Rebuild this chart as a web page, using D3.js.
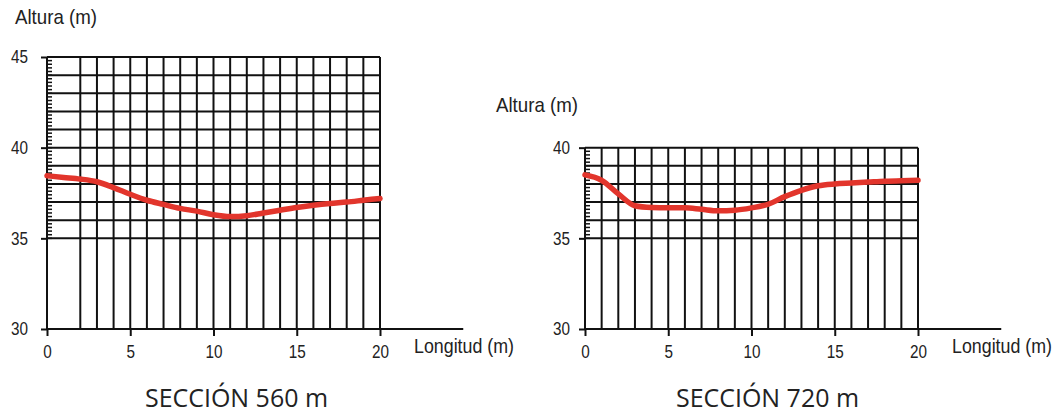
<!DOCTYPE html>
<html>
<head>
<meta charset="utf-8">
<script src="https://cdn.jsdelivr.net/npm/d3@7"></script>
<style>
  body { margin: 0; background: #fff; }
  svg { display: block; }
  .lbl { font-family: 'Liberation Sans Narrow', 'Arial Narrow', 'Liberation Sans', sans-serif; fill: #222; }
  .ttl { font-family: 'Open Sans', 'Noto Sans', sans-serif; fill: #222; }
</style>
</head>
<body>
<svg width="1063" height="415"></svg>
<script>
/* Data */
const longitud = d3.range(0, 21);
const altura560 = [38.45, 38.36, 38.27, 38.12, 37.8, 37.43, 37.1, 36.87, 36.65, 36.5, 36.3,
  36.2, 36.25, 36.4, 36.55, 36.7, 36.82, 36.92, 37.0, 37.1, 37.2];
const altura720 = [38.5, 38.2, 37.45, 36.8, 36.7, 36.68, 36.68, 36.6, 36.52, 36.55, 36.68,
  36.88, 37.3, 37.65, 37.9, 38.0, 38.05, 38.1, 38.15, 38.18, 38.2];
const xTicks = [0, 5, 10, 15, 20];
const yTicks560 = [30, 35, 40, 45];
const yTicks720 = [30, 35, 40];

const svg = d3.select('svg');
const pxPerM = (329 - 57) / 15;

// narrow digits: about 8.5px per digit
function narrow(sel) {
  sel.attr('class', 'lbl').attr('font-family', null).style('font-size', '18px')
    .attr('textLength', function () { return this.textContent.length * 8.5; })
    .attr('lengthAdjust', 'spacingAndGlyphs');
}

/* one section chart */
function section(opt) {
  const g = svg.append('g');
  const x = d3.scaleLinear().domain([0, 20]).range([opt.left, opt.left + 333]);
  const y = d3.scaleLinear().domain([30, opt.top]).range([329, 329 - (opt.top - 30) * pxPerM]);

  // vertical grid
  g.selectAll('.vg').data(d3.range(opt.gridFrom, 21)).enter().append('line')
    .attr('x1', d => x(d)).attr('x2', d => x(d))
    .attr('y1', y(30)).attr('y2', y(opt.top))
    .attr('stroke', '#111').attr('stroke-width', 2);

  // horizontal grid
  g.selectAll('.hg').data(d3.range(35, opt.top + 1)).enter().append('line')
    .attr('x1', x(0)).attr('x2', x(20))
    .attr('y1', d => y(d)).attr('y2', d => y(d))
    .attr('stroke', '#111').attr('stroke-width', 2);

  // minor ticks
  g.selectAll('.mt').data(d3.range(350, opt.top * 10, 2).map(d => d / 10)).enter().append('line')
    .attr('x1', x(0)).attr('x2', x(0) + 5)
    .attr('y1', d => y(d)).attr('y2', d => y(d))
    .attr('stroke', '#111').attr('stroke-width', 1.5);

  // axis lines
  g.append('line').attr('x1', x(0)).attr('x2', x(0)).attr('y1', y(30)).attr('y2', y(opt.top))
    .attr('stroke', '#111').attr('stroke-width', 2);
  g.append('line').attr('x1', x(0)).attr('x2', x(25)).attr('y1', y(30)).attr('y2', y(30))
    .attr('stroke', '#111').attr('stroke-width', 2);

  // axes
  const ax = g.append('g').attr('transform', `translate(0,${y(30)})`)
    .call(d3.axisBottom(x).tickValues(xTicks).tickSize(7).tickPadding(9).tickFormat(d3.format('d')));
  ax.select('.domain').remove();
  ax.selectAll('line').attr('stroke', '#111').attr('stroke-width', 2);
  ax.selectAll('text').call(narrow);

  const ay = g.append('g').attr('transform', `translate(${x(0)},0)`)
    .call(d3.axisLeft(y).tickValues(opt.yTicks).tickSize(6).tickPadding(opt.yPad).tickFormat(d3.format('d')));
  ay.select('.domain').remove();
  ay.selectAll('line').attr('stroke', '#111').attr('stroke-width', 2);
  ay.selectAll('text').call(narrow);

  // profile
  const line = d3.line().x((d, i) => x(longitud[i])).y(d => y(d)).curve(d3.curveMonotoneX);
  g.append('path').datum(opt.values)
    .attr('d', line)
    .attr('fill', 'none')
    .attr('stroke', '#e2352c')
    .attr('stroke-width', 5.5)
    .attr('stroke-linecap', 'round');

  // labels
  g.append('text').attr('class', 'lbl')
    .attr('x', opt.altX).attr('y', opt.altY)
    .style('font-size', '21px')
    .attr('textLength', 82).attr('lengthAdjust', 'spacingAndGlyphs')
    .text('Altura (m)');
  g.append('text').attr('class', 'lbl')
    .attr('x', x(20) + 34).attr('y', 353)
    .style('font-size', '20px')
    .attr('textLength', 100).attr('lengthAdjust', 'spacingAndGlyphs')
    .text('Longitud (m)');
  g.append('text').attr('class', 'ttl')
    .attr('x', opt.titleX).attr('y', 407)
    .style('font-size', '25px')
    .attr('textLength', 183).attr('lengthAdjust', 'spacingAndGlyphs')
    .text(opt.title);
}

section({ left: 47, top: 45, gridFrom: 2, values: altura560, yTicks: yTicks560, yPad: 13,
  altX: 15, altY: 24, titleX: 145, title: 'SECCIÓN 560 m' });
section({ left: 585, top: 40, gridFrom: 1, values: altura720, yTicks: yTicks720, yPad: 9,
  altX: 496, altY: 112, titleX: 676, title: 'SECCIÓN 720 m' });
</script>
</body>
</html>
